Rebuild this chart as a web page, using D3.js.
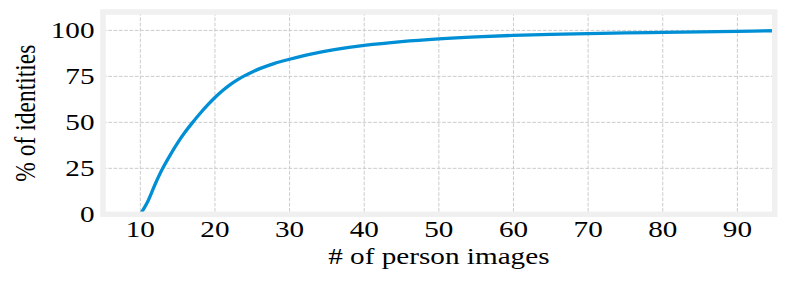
<!DOCTYPE html>
<html>
<head>
<meta charset="utf-8">
<script src="https://cdn.jsdelivr.net/npm/d3@7"></script>
<style>
  body { margin: 0; background: #fff; }
  text { font-family: "Liberation Serif", "Times New Roman", Times, serif; fill: #000; }
</style>
</head>
<body>
<div id="chart"></div>
<script>
var vWidth = 790;
var vHeight = 283;

// Values
var imageCounts = [10, 11, 12, 13, 14, 15, 16, 17, 18, 19, 20, 21, 22, 23, 24, 25, 26, 28, 30, 33, 36, 40, 45, 50, 55, 60, 65, 70, 75, 80, 85, 90, 95];
var pctIdentities = [0, 7, 16.5, 25, 32.2, 38.8, 44.7, 49.9, 54.8, 59.3, 63.5, 67.2, 70.4, 73.1, 75.4, 77.4, 79.2, 82.1, 84.3, 87.2, 89.5, 91.8, 93.9, 95.4, 96.5, 97.3, 97.8, 98.2, 98.6, 98.9, 99.2, 99.5, 99.8];
var xTicks = [10, 20, 30, 40, 50, 60, 70, 80, 90];
var yTicks = [0, 25, 50, 75, 100];

var pLeft = 103, pRight = 774.7, pTop = 12, pBottom = 214.3;
var sx = 1.27; // the figure is stretched sideways

var x = d3.scaleLinear().domain([5, 95]).range([pLeft, pRight]);
var y = d3.scaleLinear().domain([0, 110]).range([pBottom, pTop]);

var svg = d3.select("#chart")
    .append("svg")
        .attr("width", vWidth)
        .attr("height", vHeight);

// grid
svg.append("g")
    .selectAll("line")
    .data(xTicks)
    .enter().append("line")
        .attr("x1", function (d) { return x(d); })
        .attr("x2", function (d) { return x(d); })
        .attr("y1", pTop)
        .attr("y2", pBottom)
        .style("stroke", "#cbcbcb")
        .style("stroke-dasharray", "3.7,1.6");

svg.append("g")
    .selectAll("line")
    .data(yTicks)
    .enter().append("line")
        .attr("x1", pLeft)
        .attr("x2", pRight)
        .attr("y1", function (d) { return y(d); })
        .attr("y2", function (d) { return y(d); })
        .style("stroke", "#cbcbcb")
        .style("stroke-dasharray", "3.7,1.6");

// the curve
var line = d3.line()
    .x(function (d, i) { return x(imageCounts[i]); })
    .y(function (d) { return y(d); })
    .curve(d3.curveCatmullRom.alpha(0.5));

svg.append("path")
    .datum(pctIdentities)
    .attr("d", line)
    .style("fill", "none")
    .style("stroke", "#008fd5")
    .style("stroke-width", 3.3);

// frame, drawn over the line like matplotlib spines
svg.append("rect")
    .attr("x", pLeft)
    .attr("y", pTop)
    .attr("width", pRight - pLeft)
    .attr("height", pBottom - pTop)
    .style("fill", "none")
    .style("stroke", "#f0f0f0")
    .style("stroke-width", 5.5);

// tick labels
svg.append("g")
    .selectAll("text")
    .data(xTicks)
    .enter().append("text")
        .attr("transform", function (d) { return "translate(" + x(d) + ",237) scale(" + sx + ",1)"; })
        .attr("text-anchor", "middle")
        .style("font-size", "23px")
        .text(function (d) { return d; });

svg.append("g")
    .selectAll("text")
    .data(yTicks)
    .enter().append("text")
        .attr("transform", function (d) { return "translate(94.5," + (y(d) + 8) + ") scale(" + sx + ",1)"; })
        .attr("text-anchor", "end")
        .style("font-size", "23px")
        .text(function (d) { return d; });

// axis titles
svg.append("text")
    .attr("transform", "translate(" + (pLeft + pRight) / 2 + ",264) scale(" + sx + ",1)")
    .attr("text-anchor", "middle")
    .style("font-size", "23px")
    .text("# of person images");

svg.append("text")
    .attr("transform", "translate(35," + (pTop + pBottom) / 2 + ") scale(" + sx + ",1) rotate(-90)")
    .attr("text-anchor", "middle")
    .style("font-size", "23.5px")
    .text("% of identities");
</script>
</body>
</html>
